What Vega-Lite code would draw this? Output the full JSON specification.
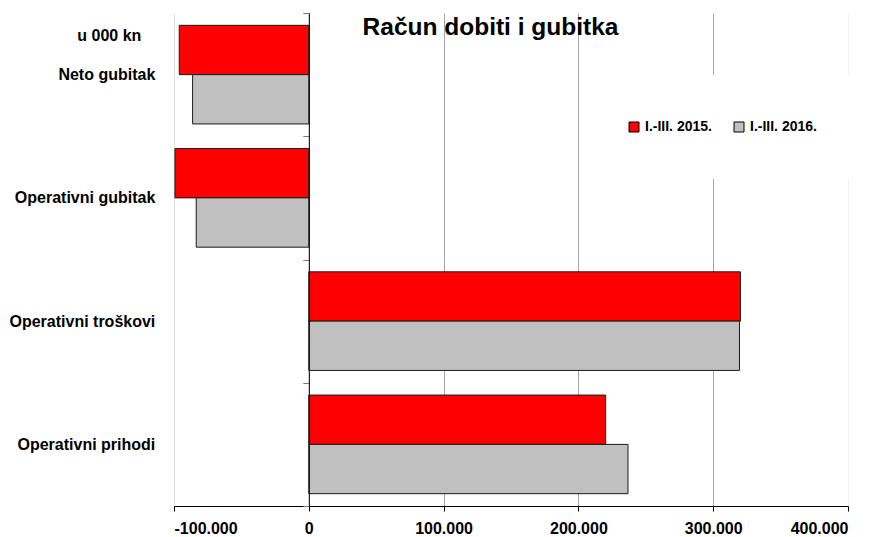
{
  "$schema": "https://vega.github.io/schema/vega-lite/v6.json",
  "width": 674,
  "height": 493,
  "autosize": {"type": "none"},
  "padding": {"left": 174, "top": 13, "right": 30, "bottom": 31},
  "background": "white",
  "data": {
    "values": [
      {"kategorija": "Neto gubitak", "razdoblje": "I.-III. 2015.", "iznos": -96100},
      {"kategorija": "Neto gubitak", "razdoblje": "I.-III. 2016.", "iznos": -86200},
      {"kategorija": "Operativni gubitak", "razdoblje": "I.-III. 2015.", "iznos": -99300},
      {"kategorija": "Operativni gubitak", "razdoblje": "I.-III. 2016.", "iznos": -83500},
      {"kategorija": "Operativni troškovi", "razdoblje": "I.-III. 2015.", "iznos": 320200},
      {"kategorija": "Operativni troškovi", "razdoblje": "I.-III. 2016.", "iznos": 319500},
      {"kategorija": "Operativni prihodi", "razdoblje": "I.-III. 2015.", "iznos": 220200},
      {"kategorija": "Operativni prihodi", "razdoblje": "I.-III. 2016.", "iznos": 236800}
    ]
  },
  "mark": {"type": "bar", "stroke": "#1a1a1a", "strokeWidth": 1},
  "encoding": {
    "y": {
      "field": "kategorija",
      "type": "nominal",
      "sort": ["Neto gubitak", "Operativni gubitak", "Operativni troškovi", "Operativni prihodi"],
      "scale": {"paddingInner": 0, "paddingOuter": 0},
      "axis": {
        "title": "u 000 kn",
        "titleAngle": 0,
        "titleAlign": "center",
        "titleBaseline": "alphabetic",
        "titleX": -200,
        "titleY": 27,
        "titleFont": "Liberation Sans",
        "titleFontSize": 16,
        "titleFontWeight": "bold",
        "titleColor": "black",
        "offset": -134.8,
        "zindex": 1,
        "domainColor": "black",
        "domainWidth": 1,
        "ticks": true,
        "tickBand": "extent",
        "tickSize": 6,
        "tickColor": "#777777",
        "labelPadding": 148,
        "labelFont": "Liberation Sans",
        "labelFontSize": 16,
        "labelFontWeight": "bold",
        "labelColor": "black",
        "labelLimit": 300,
        "grid": false
      }
    },
    "yOffset": {
      "field": "razdoblje",
      "sort": ["I.-III. 2015.", "I.-III. 2016."],
      "scale": {"paddingInner": 0, "paddingOuter": 0.25}
    },
    "x": {
      "field": "iznos",
      "type": "quantitative",
      "scale": {"domain": [-100000, 400000], "nice": false},
      "axis": {
        "title": "Račun dobiti i gubitka",
        "titleX": 316,
        "titleY": -472,
        "titleAngle": 0,
        "titleAlign": "center",
        "titleBaseline": "alphabetic",
        "titleFont": "Liberation Sans",
        "titleFontSize": 24.5,
        "titleFontWeight": "bold",
        "titleColor": "black",
        "values": [-100000, 0, 100000, 200000, 300000, 400000],
        "format": ",.0f",
        "grid": true,
        "gridColor": {
          "condition": [
            {"test": "datum.value === -100000", "value": "#e0e0e0"},
            {"test": "datum.value === 400000", "value": "#f2f2f2"}
          ],
          "value": "#a6a6a6"
        },
        "gridWidth": 1,
        "domainColor": "black",
        "domainWidth": 1,
        "tickColor": "black",
        "tickSize": 5,
        "labelFont": "Liberation Sans",
        "labelFontSize": 16,
        "labelFontWeight": "bold",
        "labelColor": "black",
        "labelPadding": 9
      }
    },
    "color": {
      "field": "razdoblje",
      "type": "nominal",
      "scale": {"domain": ["I.-III. 2015.", "I.-III. 2016."], "range": ["#FF0000", "#C0C0C0"]},
      "legend": {
        "title": null,
        "orient": "none",
        "legendX": 408,
        "legendY": 62,
        "direction": "horizontal",
        "fillColor": "white",
        "padding": 45,
        "symbolType": "square",
        "symbolSize": 100,
        "symbolStrokeColor": "#000000",
        "symbolStrokeWidth": 1,
        "labelFont": "Liberation Sans",
        "labelFontSize": 14,
        "labelFontWeight": "bold",
        "labelColor": "black",
        "labelOffset": 4,
        "columnPadding": 20
      }
    }
  },
  "config": {
    "view": {"stroke": null},
    "locale": {
      "number": {
        "decimal": ",",
        "thousands": ".",
        "grouping": [3],
        "currency": ["", " kn"],
        "minus": "-"
      }
    }
  }
}
